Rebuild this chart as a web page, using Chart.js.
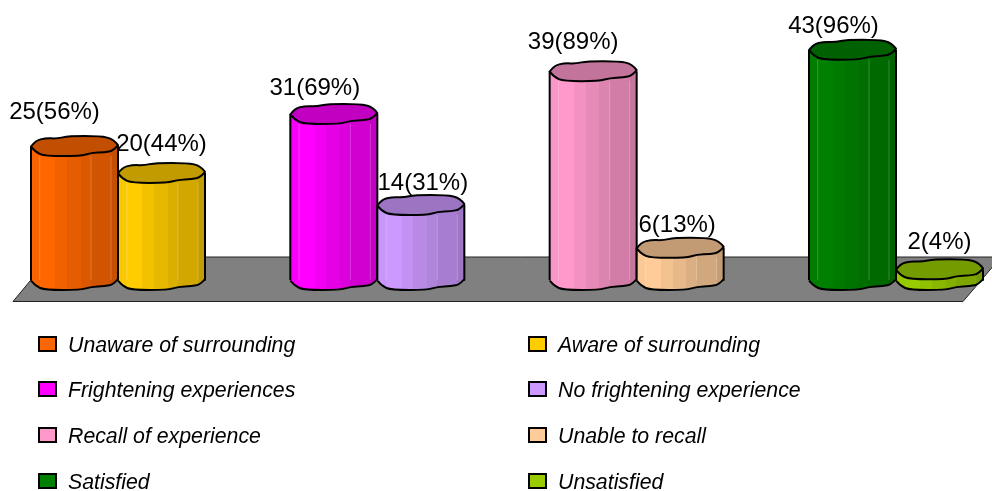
<!DOCTYPE html>
<html>
<head>
<meta charset="utf-8">
<title>Experience during the procedure</title>
<script src="https://cdn.jsdelivr.net/npm/chart.js@4"></script>
<style>
html, body { margin: 0; padding: 0; background: #fff; }
canvas { display: block; }
</style>
</head>
<body>
<canvas id="chart" width="992" height="491"></canvas>
<script>
(function () {
    'use strict';

    var groups = ['Surrounding', 'Frightening', 'Recall', 'Satisfaction'];
    var firstLabels = ['Unaware of surrounding', 'Frightening experiences', 'Recall of experience', 'Satisfied'];
    var secondLabels = ['Aware of surrounding', 'No frightening experience', 'Unable to recall', 'Unsatisfied'];
    var firstValues = [25, 31, 39, 43];
    var secondValues = [20, 14, 6, 2];
    var firstPercents = [56, 69, 89, 96];
    var secondPercents = [44, 31, 13, 4];
    var firstColors = ['#FF6600', '#FF00FF', '#FF99CC', '#008000'];
    var secondColors = ['#FFCC00', '#CC99FF', '#FFCC99', '#99CC00'];

    // label placement relative to the top of its bar
    var firstShift = [[-20, -27], [-19, -19], [-20, -22], [-19, -17]];
    var secondShift = [[0, -22], [2, -15], [-3, -16], [0, -20]];

    var FONT = '"Liberation Sans", Arial, sans-serif';
    var RIM = 10;

    // wobbly outline of the cylinder top, u across the bar, v up/down the rim
    var rimTop = [[0, 0.05], [0.05, -0.55], [0.17, -0.8], [0.3, -0.75], [0.43, -1], [0.8, -1], [0.95, -0.7], [1, -0.1]];
    var rimBottom = [[1, -0.1], [0.95, 0.45], [0.85, 0.62], [0.69, 0.68], [0.57, 1], [0.16, 1], [0.05, 0.6], [0, 0.05]];
    var bandEdges = [0, 0.1, 0.28, 0.415, 0.57, 0.69, 0.92, 1];
    var bandShade = [0.98, 1, 0.95, 0.9, 0.86, 0.82, 0.77];
    var streaks = [0.1, 0.69, 0.92];

    function shade(hex, f) {
        var n = parseInt(hex.slice(1), 16);
        var r = Math.round((n >> 16 & 255) * f);
        var g = Math.round((n >> 8 & 255) * f);
        var b = Math.round((n & 255) * f);
        return 'rgb(' + r + ',' + g + ',' + b + ')';
    }

    // rounded path through the outline points
    function trace(ctx, pts, x, w, y, move) {
        var xy = pts.map(function (p) {
            return [x + p[0] * w, y + p[1] * RIM];
        });
        if (move) {
            ctx.moveTo(xy[0][0], xy[0][1]);
        } else {
            ctx.lineTo(xy[0][0], xy[0][1]);
        }
        for (var i = 1; i < xy.length - 1; i++) {
            var endX = i === xy.length - 2 ? xy[i + 1][0] : (xy[i][0] + xy[i + 1][0]) / 2;
            var endY = i === xy.length - 2 ? xy[i + 1][1] : (xy[i][1] + xy[i + 1][1]) / 2;
            ctx.quadraticCurveTo(xy[i][0], xy[i][1], endX, endY);
        }
    }

    function drawCylinder(ctx, bar, color) {
        var x = bar.x - bar.width / 2;
        var w = bar.width;
        var top = bar.y;
        var bottom = bar.base;

        var grad = ctx.createLinearGradient(x, 0, x + w, 0);
        bandShade.forEach(function (f, i) {
            grad.addColorStop(bandEdges[i], shade(color, f));
            grad.addColorStop(bandEdges[i + 1], shade(color, f));
        });

        ctx.beginPath();
        ctx.moveTo(x, top);
        ctx.lineTo(x + w, top);
        ctx.lineTo(x + w, bottom);
        trace(ctx, rimBottom, x, w, bottom, false);
        ctx.closePath();
        ctx.fillStyle = grad;
        ctx.fill();

        ctx.strokeStyle = 'rgba(255,255,255,0.22)';
        ctx.lineWidth = 1;
        streaks.forEach(function (u) {
            ctx.beginPath();
            ctx.moveTo(x + u * w, top + RIM);
            ctx.lineTo(x + u * w, bottom);
            ctx.stroke();
        });

        ctx.strokeStyle = '#000';
        ctx.lineWidth = 2;
        ctx.lineJoin = 'round';
        ctx.beginPath();
        ctx.moveTo(x, top);
        ctx.lineTo(x, bottom);
        ctx.moveTo(x + w, top);
        ctx.lineTo(x + w, bottom);
        trace(ctx, rimBottom, x, w, bottom, false);
        ctx.stroke();

        ctx.beginPath();
        trace(ctx, rimTop, x, w, top, true);
        trace(ctx, rimBottom, x, w, top, false);
        ctx.closePath();
        ctx.fillStyle = shade(color, 0.76);
        ctx.fill();
        ctx.stroke();
    }

    var floorPlugin = {
        id: 'floor',
        beforeDatasetsDraw: function (chart) {
            var ctx = chart.ctx;
            var area = chart.chartArea;
            var back = area.bottom - 23;
            var front = area.bottom + 21.5;
            ctx.save();
            ctx.beginPath();
            ctx.moveTo(area.left - 105, front);
            ctx.lineTo(area.left - 68, back);
            ctx.lineTo(area.right + 105, back);
            ctx.lineTo(area.right + 67, front);
            ctx.closePath();
            ctx.fillStyle = '#808080';
            ctx.fill();
            ctx.strokeStyle = '#222';
            ctx.lineWidth = 1;
            ctx.stroke();
            ctx.restore();
        }
    };

    var cylinderPlugin = {
        id: 'cylinders',
        afterDatasetsDraw: function (chart) {
            var ctx = chart.ctx;
            var shifts = [firstShift, secondShift];
            var texts = [
                firstValues.map(function (v, i) { return v + '(' + firstPercents[i] + '%)'; }),
                secondValues.map(function (v, i) { return v + '(' + secondPercents[i] + '%)'; })
            ];
            ctx.save();
            groups.forEach(function (g, i) {
                [0, 1].forEach(function (d) {
                    var bar = chart.getDatasetMeta(d).data[i];
                    drawCylinder(ctx, bar, chart.data.datasets[d].fillColors[i]);
                });
            });
            ctx.font = '24px ' + FONT;
            ctx.fillStyle = '#000';
            ctx.textAlign = 'center';
            ctx.textBaseline = 'alphabetic';
            groups.forEach(function (g, i) {
                [0, 1].forEach(function (d) {
                    var bar = chart.getDatasetMeta(d).data[i];
                    ctx.fillText(texts[d][i], bar.x + shifts[d][i][0], bar.y + shifts[d][i][1]);
                });
            });
            ctx.restore();
        }
    };

    var keyPlugin = {
        id: 'key',
        afterDraw: function (chart) {
            var ctx = chart.ctx;
            var rows = [344, 389, 435, 481];
            var columns = [39, 529];
            var names = [firstLabels, secondLabels];
            var colors = [firstColors, secondColors];
            ctx.save();
            ctx.font = 'italic 21.3px ' + FONT;
            ctx.textAlign = 'left';
            ctx.textBaseline = 'middle';
            rows.forEach(function (y, i) {
                columns.forEach(function (x, c) {
                    ctx.fillStyle = colors[c][i];
                    ctx.strokeStyle = '#000';
                    ctx.lineWidth = 2;
                    ctx.fillRect(x, y - 7, 17, 14);
                    ctx.strokeRect(x, y - 7, 17, 14);
                    ctx.fillStyle = '#000';
                    ctx.fillText(names[c][i], x + 29, y + 2);
                });
            });
            ctx.restore();
        }
    };

    new Chart(document.getElementById('chart').getContext('2d'), {
        type: 'bar',
        data: {
            labels: groups,
            datasets: [{
                data: firstValues,
                fillColors: firstColors,
                backgroundColor: 'transparent',
                barThickness: 87
            }, {
                data: secondValues,
                fillColors: secondColors,
                backgroundColor: 'transparent',
                barThickness: 87
            }]
        },
        options: {
            responsive: false,
            animation: false,
            devicePixelRatio: 1,
            layout: {
                padding: { left: 118, right: 96, top: 39, bottom: 211 }
            },
            plugins: {
                legend: { display: false },
                tooltip: { enabled: false }
            },
            scales: {
                x: { display: false, offset: false },
                y: { display: false, min: 0, max: 45 }
            }
        },
        plugins: [floorPlugin, cylinderPlugin, keyPlugin]
    });
}());
</script>
</body>
</html>
